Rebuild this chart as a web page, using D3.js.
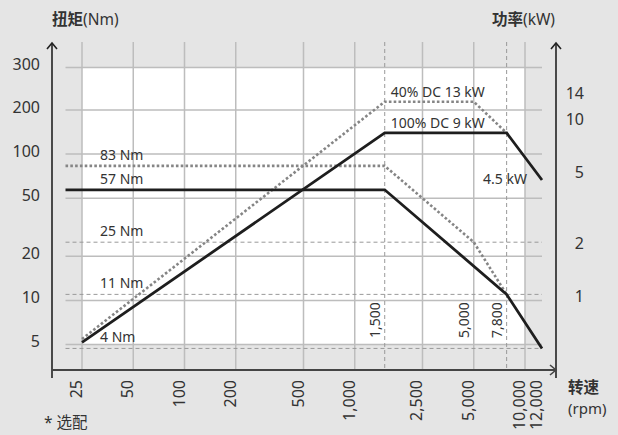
<!DOCTYPE html>
<html><head><meta charset="utf-8">
<script src="https://cdn.jsdelivr.net/npm/d3@7"></script>
<style>
html,body{margin:0;padding:0;background:#e5e5e5;}
svg{display:block;font-family:"Noto Sans","Noto Sans CJK SC",sans-serif;}
</style></head><body>
<svg id="c" width="618" height="435"></svg>
<script>
// ---- data ----
const rpmTicks = [25, 50, 100, 200, 500, 1000, 2500, 5000, 10000, 12000];
const rpmTickLabels = ["25", "50", "100", "200", "500", "1,000", "2,500", "5,000", "10,000", "12,000"];
const rpmGrid = [25, 50, 100, 200, 500, 1000, 2500, 5000, 10000];
const rpmMarks = [1500, 5000, 7800];
const rpmMarkLabels = ["1,500", "5,000", "7,800"];
const rpmDashed = [1500, 7800];
const torqueTicks = [5, 10, 20, 50, 100, 200, 300];
const powerTicks = [1, 2, 5, 10, 14];
const torqueRefLines = [25, 11, 4.7];
const torqueLabelValues = [83, 57, 25, 11, 4.7];
const torqueLabelTexts = ["83 Nm", "57 Nm", "25 Nm", "11 Nm", "4 Nm"];

const torque100Rpm = [20, 1500, 7800, 12000];
const torque100Nm = [57, 57, 11, 4.7];
const torque40Rpm = [20, 1500, 5000, 7800];
const torque40Nm = [83, 83, 25, 11];
const power100Rpm = [25, 1500, 7800, 12000];
const power100kW = [0.55, 8.4, 8.4, 4.55];
const power40Rpm = [25, 1500, 5000, 7800];
const power40kW = [0.575, 12.6, 12.6, 8.4];

// ---- scales ----
const x = d3.scaleLog().domain([25, 10000, 12000]).range([82, 525, 542]);
const y = d3.scaleLog().domain([5, 200, 300]).range([344.5, 110, 67.5]);
const yR = d3.scaleLog().domain([1, 10]).range([296.5, 119.5]);

const svg = d3.select("#c");
const txt = "#333";
const gridTop = 42, axisY = 370, leftAxisX = 52, rightAxisX = 556;
const gridLeft = x(20), gridRight = x(12000);

// plot area
svg.append("rect").attr("x", x(25)).attr("y", y(300))
  .attr("width", x(10000) - x(25)).attr("height", y(5) - y(300)).attr("fill", "#fff");

// grid
svg.append("g").selectAll("line").data(rpmGrid).join("line")
  .attr("x1", d => x(d)).attr("x2", d => x(d)).attr("y1", gridTop).attr("y2", axisY)
  .attr("stroke", "#bdbdbd").attr("stroke-width", 1.5);
svg.append("g").selectAll("line").data(torqueTicks).join("line")
  .attr("x1", gridLeft).attr("x2", gridRight).attr("y1", d => y(d)).attr("y2", d => y(d))
  .attr("stroke", "#bdbdbd").attr("stroke-width", 1.5);
svg.append("g").selectAll("line").data(rpmDashed).join("line")
  .attr("x1", d => x(d)).attr("x2", d => x(d)).attr("y1", gridTop).attr("y2", axisY)
  .attr("stroke", "#999").attr("stroke-width", 1).attr("stroke-dasharray", "4,3");
svg.append("g").selectAll("line").data(torqueRefLines).join("line")
  .attr("x1", gridLeft).attr("x2", gridRight).attr("y1", d => y(d)).attr("y2", d => y(d))
  .attr("stroke", "#999").attr("stroke-width", 1).attr("stroke-dasharray", "4,3");

// series
function series(xs, ys, ysc, dotted) {
  const pts = xs.map((v, i) => [x(v), ysc(ys[i])]);
  svg.append("path").attr("d", d3.line()(pts)).attr("fill", "none")
    .attr("stroke", dotted ? "#858585" : "#1e1e1e")
    .attr("stroke-width", dotted ? 2.6 : 2.8)
    .attr("stroke-dasharray", dotted ? "2.6,2.2" : null)
    .attr("stroke-linejoin", "miter");
}
series(torque40Rpm, torque40Nm, y, true);
series(power40Rpm, power40kW, yR, true);
series(torque100Rpm, torque100Nm, y, false);
series(power100Rpm, power100kW, yR, false);

// axes
const ax = svg.append("g").attr("fill", "none").attr("stroke-width", 1.6);
ax.append("line").attr("x1", leftAxisX).attr("x2", leftAxisX).attr("y1", 43).attr("y2", 378).attr("stroke", "#222");
ax.append("line").attr("x1", rightAxisX).attr("x2", rightAxisX).attr("y1", 43).attr("y2", 378).attr("stroke", "#222");
ax.append("line").attr("x1", leftAxisX).attr("x2", rightAxisX).attr("y1", axisY).attr("y2", axisY).attr("stroke", "#444").attr("stroke-width", 2);
ax.append("path").attr("d", `M${leftAxisX-5},${49}L${leftAxisX},${43}L${leftAxisX+5},${49}`).attr("stroke", "#222");
ax.append("path").attr("d", `M${rightAxisX-5},${49}L${rightAxisX},${43}L${rightAxisX+5},${49}`).attr("stroke", "#222");
ax.append("path").attr("d", `M${rightAxisX-6},${axisY-5}L${rightAxisX},${axisY}L${rightAxisX-6},${axisY+5}`).attr("stroke", "#444");

// tick labels
svg.append("g").selectAll("text").data(torqueTicks).join("text")
  .attr("x", 40).attr("y", d => y(d) - 3).attr("dy", "0.35em").attr("text-anchor", "end")
  .attr("font-size", 16).attr("fill", txt).text(d => d);
svg.append("g").selectAll("text").data(powerTicks).join("text")
  .attr("x", 584).attr("y", d => yR(d)).attr("dy", "0.35em").attr("text-anchor", "end")
  .attr("font-size", 16).attr("fill", txt).text(d => d);
svg.append("g").selectAll("text").data(rpmTicks).join("text")
  .attr("transform", d => `translate(${x(d)},380) rotate(-90)`).attr("text-anchor", "end")
  .attr("font-size", 16).attr("fill", txt).text((d, i) => rpmTickLabels[i]);
svg.append("g").selectAll("text").data(rpmMarks).join("text")
  .attr("transform", d => `translate(${x(d) - 5},338) rotate(-90)`).attr("text-anchor", "start")
  .attr("font-size", 14).attr("fill", txt).text((d, i) => rpmMarkLabels[i]);

// line labels
svg.append("g").selectAll("text").data(torqueLabelValues).join("text")
  .attr("x", 100).attr("y", d => y(d) - 6).attr("font-size", 14).attr("fill", txt)
  .text((d, i) => torqueLabelTexts[i]);
svg.append("text").attr("x", x(1500) + 6).attr("y", yR(power40kW[1]) - 5)
  .attr("font-size", 14).attr("fill", txt).text("40% DC 13 kW");
svg.append("text").attr("x", x(1500) + 6).attr("y", yR(power100kW[1]) - 5)
  .attr("font-size", 14).attr("fill", txt).text("100% DC 9 kW");
svg.append("text").attr("x", x(10000) + 2).attr("y", yR(power100kW[3]) + 4).attr("text-anchor", "end")
  .attr("font-size", 14).attr("fill", txt).text("4.5 kW");

// titles
const t1 = svg.append("text").attr("x", 52).attr("y", 25).attr("font-size", 15.5).attr("fill", txt);
t1.append("tspan").attr("font-weight", "bold").text("扭矩");
t1.append("tspan").text("(Nm)");
const t2 = svg.append("text").attr("x", 555).attr("y", 25).attr("font-size", 15.5).attr("fill", txt).attr("text-anchor", "end");
t2.append("tspan").attr("font-weight", "bold").text("功率");
t2.append("tspan").text("(kW)");
svg.append("text").attr("x", 568).attr("y", 393).attr("font-size", 15.5).attr("font-weight", "bold").attr("fill", txt).text("转速");
svg.append("text").attr("x", 568).attr("y", 414).attr("font-size", 15).attr("fill", txt).text("(rpm)");
svg.append("text").attr("x", 44).attr("y", 428).attr("font-size", 15.5).attr("fill", txt).text("* 选配");
</script>
</body></html>
